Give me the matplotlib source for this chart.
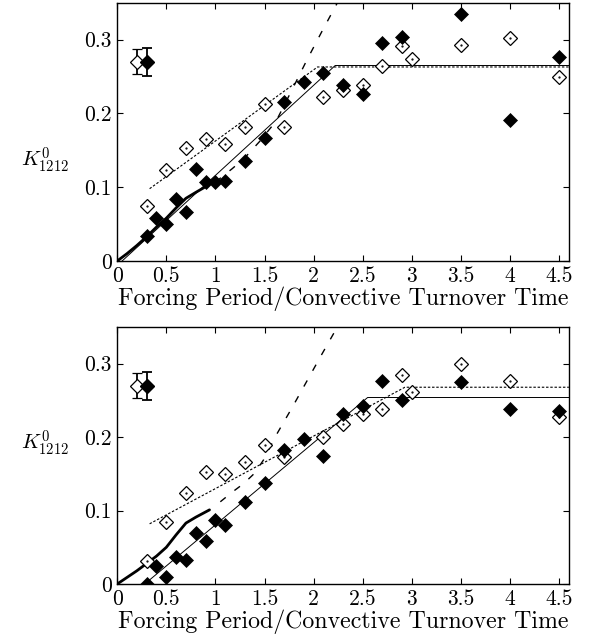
import matplotlib
matplotlib.use("Agg")
import matplotlib.pyplot as plt
from matplotlib.ticker import FuncFormatter

plt.rcParams['font.family'] = 'serif'
plt.rcParams['font.serif'] = ['cmr10']
plt.rcParams['mathtext.fontset'] = 'cm'
plt.rcParams['axes.unicode_minus'] = False

# measured points (filled = black diamonds, open = white diamonds)
x_filled = [0.3, 0.4, 0.5, 0.6, 0.7, 0.8, 0.9, 1.0, 1.1, 1.3, 1.5, 1.7, 1.9, 2.1, 2.3, 2.5, 2.7, 2.9, 3.5, 4.0, 4.5]
x_open = [0.3, 0.5, 0.7, 0.9, 1.1, 1.3, 1.5, 1.7, 2.1, 2.3, 2.5, 2.7, 2.9, 3.0, 3.5, 4.0, 4.5]

top_filled = [0.034, 0.058, 0.050, 0.084, 0.067, 0.125, 0.107, 0.107, 0.108, 0.135, 0.167, 0.215,
              0.243, 0.255, 0.238, 0.226, 0.295, 0.304, 0.335, 0.191, 0.277]
top_open = [0.074, 0.123, 0.153, 0.165, 0.158, 0.181, 0.213, 0.181, 0.222, 0.232, 0.238, 0.264,
            0.291, 0.274, 0.293, 0.302, 0.249]

bot_filled = [0.0, 0.025, 0.009, 0.037, 0.033, 0.069, 0.058, 0.087, 0.080, 0.112, 0.138, 0.183,
              0.197, 0.175, 0.231, 0.243, 0.276, 0.251, 0.275, 0.238, 0.235]
bot_open = [0.032, 0.085, 0.124, 0.153, 0.150, 0.166, 0.189, 0.173, 0.200, 0.218, 0.231, 0.238,
            0.285, 0.261, 0.300, 0.276, 0.227]

# model curves
top_thick_x = [0.0, 0.1, 0.2, 0.3, 0.4, 0.5, 0.6, 0.7, 0.8, 0.93]
top_thick_y = [0.0, 0.010, 0.021, 0.033, 0.046, 0.058, 0.072, 0.085, 0.093, 0.103]
bot_thick_x = [0.0, 0.1, 0.2, 0.3, 0.4, 0.5, 0.6, 0.7, 0.8, 0.94]
bot_thick_y = [0.0, 0.009, 0.018, 0.028, 0.038, 0.050, 0.067, 0.083, 0.091, 0.101]

top_solid_x = [0.05, 2.22, 4.6]
top_solid_y = [0.0, 0.265, 0.265]
bot_solid_x = [0.28, 2.55, 4.6]
bot_solid_y = [0.0, 0.254, 0.254]

top_dot_x = [0.33, 2.04, 4.6]
top_dot_y = [0.098, 0.263, 0.263]
bot_dot_x = [0.33, 2.93, 4.6]
bot_dot_y = [0.082, 0.268, 0.268]

top_dash_x = [1.0, 1.17, 1.3, 1.45, 1.62, 1.78, 1.93, 2.08, 2.25]
top_dash_y = [0.107, 0.125, 0.140, 0.162, 0.190, 0.232, 0.272, 0.310, 0.352]
bot_dash_x = [1.05, 1.17, 1.29, 1.40, 1.49, 1.62, 1.78, 1.93, 2.08, 2.25]
bot_dash_y = [0.112, 0.125, 0.137, 0.151, 0.169, 0.203, 0.240, 0.276, 0.312, 0.352]

# typical error bars
err_x_open, err_x_filled, err_y = 0.2, 0.3, 0.27
err_open, err_filled = 0.017, 0.019

xticks = [0, 0.5, 1, 1.5, 2, 2.5, 3, 3.5, 4, 4.5]
yticks = [0, 0.1, 0.2, 0.3]


def draw_panel(ax, filled, opened, thick, solid, dot, dash):
    ax.plot(solid[0], solid[1], color='black', lw=0.7)
    ax.plot(dot[0], dot[1], color='black', lw=0.8, dashes=(2.2, 1.6))
    ax.plot(dash[0], dash[1], color='black', lw=1.0, dashes=(5, 8))
    ax.plot(thick[0], thick[1], color='black', lw=2.0, solid_capstyle='round')

    ax.plot(x_open, opened, ls='none', marker='D', ms=7.5, mfc='white', mec='black', mew=0.9)
    ax.plot(x_open, opened, ls='none', marker='.', ms=1.2, color='black')
    ax.plot(x_filled, filled, ls='none', marker='D', ms=7.5, mfc='black', mec='black', mew=0.5)

    ax.errorbar([err_x_open], [err_y], yerr=[err_open], fmt='D', ms=7.5, mfc='white', mec='black',
                mew=0.9, ecolor='black', elinewidth=1.3, capsize=3.5, capthick=1.3)
    ax.errorbar([err_x_filled], [err_y], yerr=[err_filled], fmt='D', ms=7.5, mfc='black', mec='black',
                ecolor='black', elinewidth=1.3, capsize=3.5, capthick=1.3)

    ax.set_xlim(0, 4.6)
    ax.set_ylim(0, 0.35)
    ax.set_xticks(xticks)
    ax.set_yticks(yticks)
    fmt = FuncFormatter(lambda v, p: '%g' % v)
    ax.xaxis.set_major_formatter(fmt)
    ax.yaxis.set_major_formatter(fmt)
    ax.tick_params(direction='in', top=True, right=True, length=4, width=0.8, labelsize=15.5, pad=4)
    for s in ax.spines.values():
        s.set_linewidth(1.0)
    ax.set_xlabel('Forcing Period/Convective Turnover Time', fontsize=17.2, labelpad=0)


fig = plt.figure(figsize=(5.92, 6.35), dpi=100)
ax1 = fig.add_axes([0.198, 0.589, 0.763, 0.4066])
ax2 = fig.add_axes([0.198, 0.0803, 0.763, 0.4047])

draw_panel(ax1, top_filled, top_open, (top_thick_x, top_thick_y), (top_solid_x, top_solid_y),
           (top_dot_x, top_dot_y), (top_dash_x, top_dash_y))
draw_panel(ax2, bot_filled, bot_open, (bot_thick_x, bot_thick_y), (bot_solid_x, bot_solid_y),
           (bot_dot_x, bot_dot_y), (bot_dash_x, bot_dash_y))

fig.text(45 / 592, 1 - 160 / 635, r'$K^0_{1212}$', fontsize=15, ha='center', va='center')
fig.text(45 / 592, 1 - 443 / 635, r'$K^0_{1212}$', fontsize=15, ha='center', va='center')

fig.savefig('out.png', dpi=100)
